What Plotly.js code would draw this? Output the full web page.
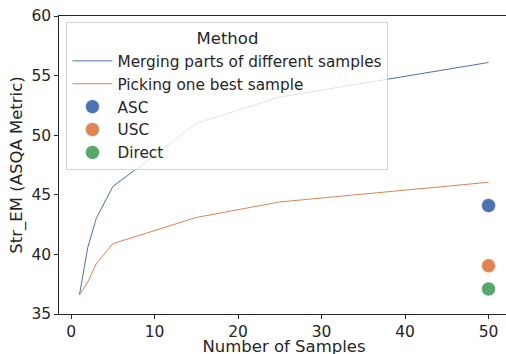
<!DOCTYPE html>
<html>
<head>
<meta charset="utf-8">
<script src="https://cdn.plot.ly/plotly-3.0.1.min.js"></script>
<style>
html, body { margin: 0; padding: 0; overflow: hidden; background: #fff; }
#chart { width: 512px; height: 356px; }
</style>
</head>
<body>
<div id="chart"></div>
<script>
const mergeX = [1, 2, 3, 5, 10, 15, 25, 50];
const mergeY = [36.6, 40.6, 43.0, 45.7, 48.3, 51.0, 53.2, 56.1];
const pickX = [1, 2, 3, 5, 15, 25, 50];
const pickY = [36.6, 37.7, 39.2, 40.9, 43.1, 44.4, 46.05];
const pointNames = ["ASC", "USC", "Direct"];
const pointX = [50, 50, 50];
const pointY = [44.1, 39.05, 37.1];
const lineNames = ["Merging parts of different samples", "Picking one best sample"];
const xTicks = [0, 10, 20, 30, 40, 50];
const yTicks = [35, 40, 45, 50, 55, 60];

const colors = ["#4c72b0", "#dd8452", "#55a868"];
const ink = "#262626";
const font = "DejaVu Sans, sans-serif";

const traces = [
  {x: mergeX, y: mergeY, mode: "lines", name: lineNames[0],
   line: {color: colors[0], width: 1}},
  {x: pickX, y: pickY, mode: "lines", name: lineNames[1],
   line: {color: colors[1], width: 1}}
];
pointNames.forEach((n, i) => {
  traces.push({x: [pointX[i]], y: [pointY[i]], mode: "markers", name: n,
    marker: {color: colors[i], size: 14, line: {color: "#fff", width: 0.5}}});
});

const layout = {
  width: 512, height: 356,
  margin: {l: 58.5, r: 2.5, t: 16, b: 42},
  paper_bgcolor: "#fff", plot_bgcolor: "#fff",
  font: {family: font, color: ink, size: 15.3},
  showlegend: true,
  legend: {
    x: 0.0166, y: 0.98, xanchor: "left", yanchor: "top",
    bgcolor: "rgba(255,255,255,0.8)", bordercolor: "#d4d4d4", borderwidth: 1,
    font: {family: font, size: 15.3, color: ink},
    title: {text: "Method", side: "top center", font: {family: font, size: 16.5, color: ink}},
    itemwidth: 40
  },
  xaxis: {
    range: [-1.45, 52.45], tickvals: xTicks, ticktext: xTicks.map(String),
    showgrid: false, zeroline: false,
    showline: true, linecolor: ink, linewidth: 1.25, mirror: true,
    ticks: "outside", ticklen: 3.5, tickwidth: 1, tickcolor: ink,
    tickfont: {family: font, size: 15.5, color: ink},
    title: {text: "Number of Samples", font: {family: font, size: 16.5, color: ink}, standoff: 4}
  },
  yaxis: {
    range: [35, 60], tickvals: yTicks, ticktext: yTicks.map(String),
    showgrid: false, zeroline: false,
    showline: true, linecolor: ink, linewidth: 1.25, mirror: true,
    ticks: "outside", ticklen: 3.5, tickwidth: 1, tickcolor: ink,
    tickfont: {family: font, size: 15.5, color: ink},
    title: {text: "Str_EM (ASQA Metric)", font: {family: font, size: 16.5, color: ink}, standoff: 4}
  }
};

Plotly.newPlot("chart", traces, layout, {displayModeBar: false, staticPlot: true});
</script>
</body>
</html>
